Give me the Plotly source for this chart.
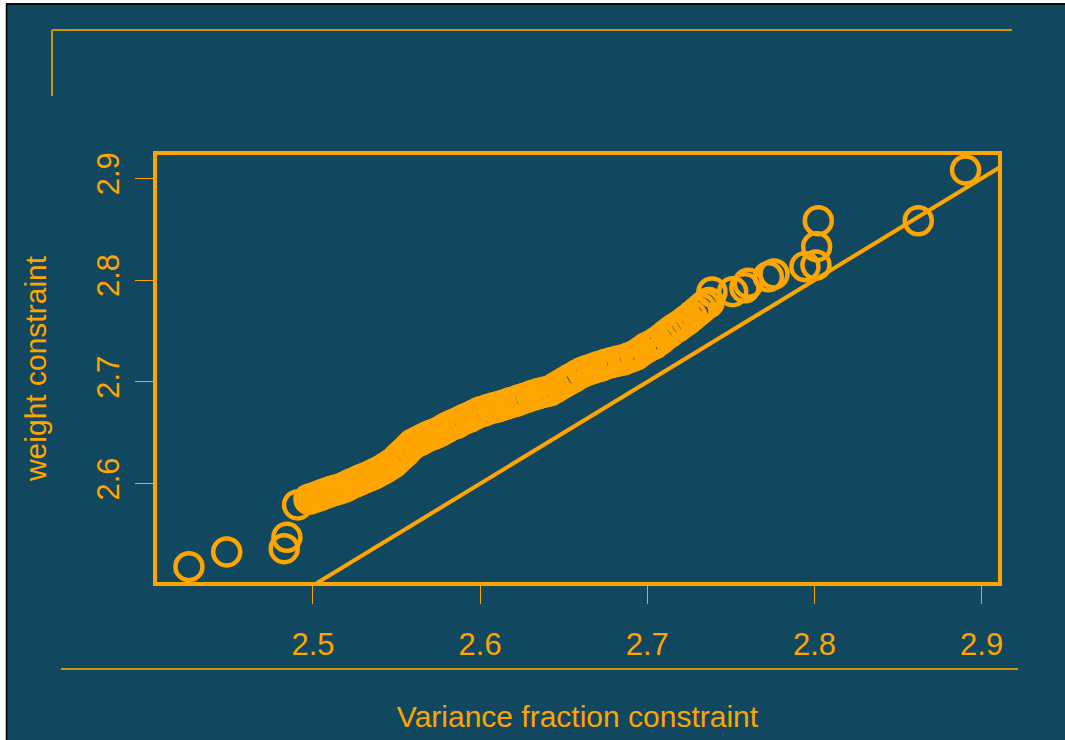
import plotly.graph_objects as go

# ---- data ----
x_vals = [
    2.4258, 2.4484, 2.4828, 2.4844, 2.4908,
    2.4976, 2.5000, 2.5024, 2.5042, 2.5060, 2.5084, 2.5102, 2.5126, 2.5150, 2.5179,
    2.5203, 2.5227, 2.5257, 2.5281, 2.5311, 2.5341, 2.5365, 2.5389, 2.5413, 2.5437,
    2.5461, 2.5479, 2.5503, 2.5520, 2.5538, 2.5556, 2.5580, 2.5598, 2.5622, 2.5646,
    2.5670, 2.5694, 2.5718, 2.5742, 2.5766, 2.5790, 2.5808, 2.5832, 2.5856, 2.5879,
    2.5909, 2.5939, 2.5969, 2.5999, 2.6023, 2.6047, 2.6077, 2.6101, 2.6131, 2.6161,
    2.6185, 2.6209, 2.6232, 2.6256, 2.6280, 2.6310, 2.6340, 2.6364, 2.6388, 2.6418,
    2.6448, 2.6478, 2.6508, 2.6538, 2.6562, 2.6585, 2.6615, 2.6639, 2.6669, 2.6699,
    2.6723, 2.6747, 2.6777, 2.6801, 2.6825, 2.6855, 2.6879, 2.6903, 2.6932, 2.6962,
    2.6992, 2.7016, 2.7040, 2.7058, 2.7082, 2.7112, 2.7136, 2.7160, 2.7184, 2.7214,
    2.7238, 2.7267, 2.7297, 2.7321, 2.7345, 2.7369,
    2.7387, 2.7511, 2.7584, 2.7604, 2.7724, 2.7758, 2.7943, 2.8009, 2.8013, 2.8023,
    2.8621, 2.8904,
]
y_vals = [
    2.5185, 2.5329, 2.5361, 2.5473, 2.5791,
    2.5847, 2.5860, 2.5872, 2.5884, 2.5896, 2.5909, 2.5921, 2.5933, 2.5943, 2.5958,
    2.5977, 2.5997, 2.6017, 2.6036, 2.6056, 2.6076, 2.6095, 2.6115, 2.6135, 2.6159,
    2.6184, 2.6203, 2.6238, 2.6267, 2.6292, 2.6321, 2.6361, 2.6390, 2.6410, 2.6429,
    2.6449, 2.6469, 2.6483, 2.6498, 2.6518, 2.6542, 2.6557, 2.6577, 2.6591, 2.6611,
    2.6636, 2.6655, 2.6680, 2.6704, 2.6714, 2.6729, 2.6744, 2.6753, 2.6768, 2.6783,
    2.6798, 2.6807, 2.6822, 2.6835, 2.6847, 2.6866, 2.6881, 2.6891, 2.6901, 2.6911,
    2.6940, 2.6970, 2.6999, 2.7028, 2.7048, 2.7073, 2.7097, 2.7112, 2.7127, 2.7146,
    2.7156, 2.7171, 2.7186, 2.7196, 2.7205, 2.7215, 2.7230, 2.7245, 2.7264, 2.7299,
    2.7333, 2.7353, 2.7372, 2.7392, 2.7421, 2.7461, 2.7490, 2.7520, 2.7544, 2.7579,
    2.7608, 2.7647, 2.7687, 2.7721, 2.7755, 2.7780,
    2.7883, 2.7886, 2.7924, 2.7969, 2.8033, 2.8060, 2.8132, 2.8148, 2.8328, 2.8583,
    2.8583, 2.9082,
]
ref_line_x = [2.40, 2.93]   # identity reference line y = x
ref_line_y = [2.40, 2.93]

x_ticks = [2.5, 2.6, 2.7, 2.8, 2.9]
x_tick_labels = ["2.5", "2.6", "2.7", "2.8", "2.9"]
y_ticks = [2.6, 2.7, 2.8, 2.9]
y_tick_labels = ["2.6", "2.7", "2.8", "2.9"]

x_title = "Variance fraction constraint"
y_title = "weight constraint"

# ---- styling ----
W, H = 1065, 740
ML, MR, MT, MB = 157, 67, 155, 158
BG = "#11475f"
ORANGE = "#FFA500"
GOLD = "#c8960c"
FONT = "Liberation Sans, Arial, sans-serif"

pw = W - ML - MR
ph = H - MT - MB


def px(xp):
    return (xp - ML) / pw


def py(yp):
    return (H - MB - yp) / ph


fig = go.Figure()
fig.add_trace(go.Scatter(
    x=ref_line_x, y=ref_line_y, mode="lines",
    line=dict(color=ORANGE, width=4), hoverinfo="skip", showlegend=False,
))
fig.add_trace(go.Scatter(
    x=x_vals, y=y_vals, mode="markers",
    marker=dict(symbol="circle-open", size=27, color=ORANGE,
                line=dict(width=4.5, color=ORANGE)),
    showlegend=False, cliponaxis=False,
))

shapes = [
    # white page edge + black frame
    dict(type="rect", xref="paper", yref="paper", x0=px(0), x1=px(6), y0=py(H), y1=py(0),
         fillcolor="white", line=dict(width=0), layer="above"),
    dict(type="rect", xref="paper", yref="paper", x0=px(0), x1=px(W), y0=py(3), y1=py(0),
         fillcolor="white", line=dict(width=0), layer="above"),
    dict(type="line", xref="paper", yref="paper", x0=px(6.5), x1=px(6.5), y0=py(3.5), y1=py(H),
         line=dict(color="black", width=1.5), layer="above"),
    dict(type="line", xref="paper", yref="paper", x0=px(6.5), x1=px(W), y0=py(4), y1=py(4),
         line=dict(color="black", width=1.5), layer="above"),
    # gold decorative lines
    dict(type="line", xref="paper", yref="paper", x0=px(52), x1=px(1012), y0=py(30), y1=py(30),
         line=dict(color=GOLD, width=2)),
    dict(type="line", xref="paper", yref="paper", x0=px(52), x1=px(52), y0=py(30), y1=py(96),
         line=dict(color=GOLD, width=2)),
    dict(type="line", xref="paper", yref="paper", x0=px(61), x1=px(1018), y0=py(669), y1=py(669),
         line=dict(color=GOLD, width=2)),
]

fig.update_layout(
    width=W, height=H,
    margin=dict(l=ML, r=MR, t=MT, b=MB, autoexpand=False),
    paper_bgcolor=BG, plot_bgcolor=BG,
    font=dict(family=FONT, color=ORANGE, size=28),
    shapes=shapes,
    xaxis=dict(
        range=[2.4067, 2.9098], showgrid=False, zeroline=False,
        showline=True, mirror=True, linecolor=ORANGE, linewidth=4,
        ticks="outside", ticklen=18, tickwidth=1, tickcolor=ORANGE,
        tickvals=x_ticks, ticktext=x_tick_labels,
        tickfont=dict(size=31, color=ORANGE, family=FONT),
        ticklabelstandoff=14,
        title=dict(text=x_title, font=dict(size=30, color=ORANGE, family=FONT), standoff=46),
    ),
    yaxis=dict(
        range=[2.5034, 2.9229], showgrid=False, zeroline=False,
        showline=True, mirror=True, linecolor=ORANGE, linewidth=4,
        ticks="outside", ticklen=18, tickwidth=1, tickcolor=ORANGE,
        tickvals=y_ticks, ticktext=y_tick_labels, tickangle=-90,
        tickfont=dict(size=31, color=ORANGE, family=FONT),
        ticklabelstandoff=4,
        title=dict(text=y_title, font=dict(size=30, color=ORANGE, family=FONT), standoff=36),
    ),
)

fig.write_html("out.html")
